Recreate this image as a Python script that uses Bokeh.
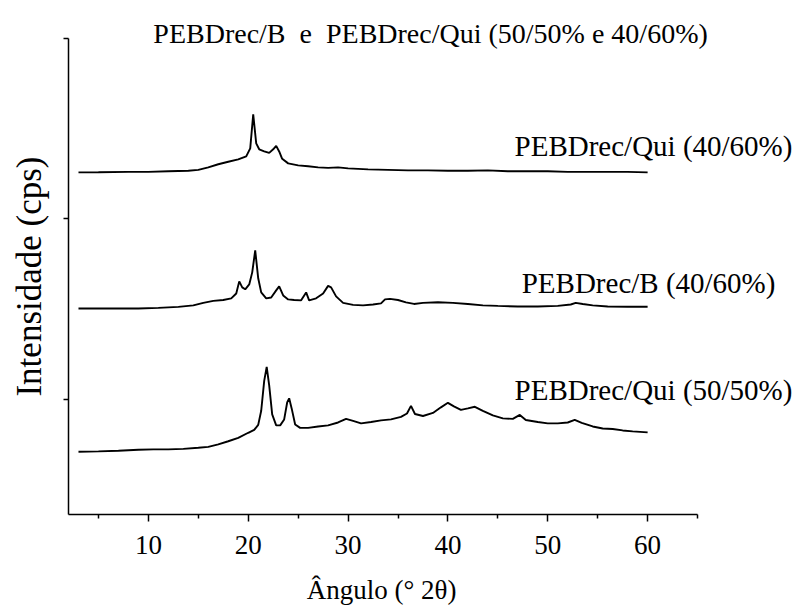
import math
from bokeh.plotting import figure
from bokeh.models import Range1d, FixedTicker, Label, CustomJSTickFormatter
from bokeh.embed import file_html
from bokeh.resources import INLINE

# Diffraction angle (2θ, degrees) and stacked intensity (cps, offset per sample)
angle_qui_40_60 = [3, 5, 8, 10, 12, 14, 15, 16, 17, 18, 19, 19.8, 20.2, 20.5, 20.8,
                   21.1, 21.6, 22.1, 22.5, 22.8, 23.1, 23.4, 24, 25, 26, 27, 28, 29,
                   30, 32, 34, 36, 38, 40, 42, 44, 46, 48, 50, 52, 54, 56, 58, 60]
int_qui_40_60 = [2258, 2259, 2261, 2261, 2264, 2267, 2272, 2286, 2303, 2317, 2330,
                 2347, 2391, 2580, 2419, 2386, 2375, 2366, 2386, 2405, 2374, 2333,
                 2308, 2297, 2292, 2286, 2283, 2286, 2280, 2275, 2272, 2269, 2269,
                 2267, 2267, 2269, 2264, 2264, 2264, 2261, 2261, 2261, 2261, 2258]

angle_b_40_60 = [3, 6, 9, 11, 13, 14.5, 15.5, 16.5, 17.5, 18.3, 18.8, 19.1, 19.4, 19.7,
                 20.1, 20.4, 20.7, 21.0, 21.3, 21.8, 22.3, 22.8, 23.1, 23.5, 24.0, 24.6,
                 25.3, 25.8, 26.1, 26.8, 27.5, 28.0, 28.3, 28.8, 29.5, 30.5, 31.5, 32.5,
                 33.3, 33.7, 34.2, 35, 35.8, 36.6, 37.5, 39, 40.5, 42, 43.5, 45, 47, 49,
                 51, 52.3, 52.8, 53.5, 54.5, 56, 58, 60]
int_b_40_60 = [1504, 1504, 1504, 1507, 1513, 1521, 1535, 1546, 1551, 1560, 1587, 1654,
               1621, 1610, 1637, 1704, 1826, 1671, 1593, 1560, 1565, 1604, 1626, 1576,
               1554, 1551, 1549, 1593, 1549, 1560, 1587, 1629, 1621, 1571, 1535, 1524,
               1521, 1526, 1532, 1554, 1557, 1551, 1538, 1529, 1535, 1538, 1535, 1529,
               1521, 1518, 1515, 1515, 1518, 1526, 1535, 1529, 1521, 1515, 1513, 1513]

angle_qui_50_50 = [3, 5, 7, 9, 10.5, 12, 13.5, 15, 16, 17, 18, 19, 20, 20.6, 21.0, 21.3,
                   21.6, 21.85, 22.1, 22.4, 22.8, 23.2, 23.6, 23.9, 24.1, 24.35, 24.7,
                   25.2, 26, 27, 28, 29, 29.8, 30.5, 31.3, 32.3, 33.3, 34.3, 35.3, 35.9,
                   36.3, 36.7, 37.5, 38.5, 39.3, 40.0, 40.6, 41.3, 42.0, 42.7, 43.5, 44.5,
                   45.5, 46.5, 47.2, 47.8, 49, 50, 51, 52, 52.7, 53.4, 54.5, 55.5, 56.5,
                   57.5, 58.5, 60]
int_qui_50_50 = [710, 712, 715, 721, 723, 723, 726, 732, 737, 751, 768, 787, 815, 831,
                 859, 937, 1103, 1180, 1078, 917, 856, 856, 889, 983, 1006, 950, 861,
                 842, 842, 850, 856, 872, 892, 881, 867, 875, 884, 889, 903, 922, 964,
                 919, 908, 925, 956, 981, 961, 942, 950, 959, 936, 911, 895, 892, 914,
                 886, 875, 867, 867, 872, 886, 870, 850, 839, 836, 828, 823, 817]

series = [
    (angle_qui_40_60, int_qui_40_60),
    (angle_b_40_60, int_b_40_60),
    (angle_qui_50_50, int_qui_50_50),
]

# Sample names, anchored by their right edge next to each trace
sample_names = ["PEBDrec/Qui (40/60%)", "PEBDrec/B (40/60%)", "PEBDrec/Qui (50/50%)"]
name_x = [74.5, 72.8, 74.5]
name_y = [2402, 1643, 1050]

x_ticks = [10, 20, 30, 40, 50, 60]
x_minor = [5, 15, 25, 35, 45, 55, 65]
y_ticks = [1000, 2000, 3000]

X_SPAN = (2, 65)
Y_SPAN = (362, 3000)

FONT = "Liberation Serif"

# The frame fills the whole canvas; both axes are pinned at the lower-left
# corner of the data span and every heading is placed as a label.
p = figure(width=795, height=612, output_backend="svg", toolbar_location=None,
           title=None,
           x_range=Range1d(-4.81, 74.81), y_range=Range1d(-181, 3210.6),
           min_border=0, min_border_left=0, min_border_right=0,
           min_border_top=0, min_border_bottom=0)
p.background_fill_color = "white"
p.border_fill_color = "white"
p.outline_line_color = None
p.xgrid.visible = False
p.ygrid.visible = False

for xs, ys in series:
    p.line(xs, ys, line_color="black", line_width=1.9)

# Bottom axis
xa = p.xaxis[0]
xa.fixed_location = Y_SPAN[0]
xa.bounds = X_SPAN
xa.ticker = FixedTicker(ticks=x_ticks, minor_ticks=x_minor)
xa.axis_line_width = 1.5
xa.axis_line_color = "black"
xa.major_tick_in = 0
xa.major_tick_out = 7
xa.minor_tick_in = 0
xa.minor_tick_out = 4
xa.major_tick_line_width = 1.5
xa.minor_tick_line_width = 1.5
xa.major_tick_line_color = "black"
xa.minor_tick_line_color = "black"
xa.major_label_text_font = FONT
xa.major_label_text_font_size = "27px"
xa.major_label_text_color = "black"
xa.major_label_standoff = 14

# Left axis: ticks only, no values
ya = p.yaxis[0]
ya.fixed_location = X_SPAN[0]
ya.bounds = Y_SPAN
ya.ticker = FixedTicker(ticks=y_ticks)
ya.formatter = CustomJSTickFormatter(code="return ''")
ya.axis_line_width = 1.5
ya.axis_line_color = "black"
ya.major_tick_in = 0
ya.major_tick_out = 5
ya.minor_tick_out = 0
ya.minor_tick_in = 0
ya.major_tick_line_width = 1.5
ya.major_tick_line_color = "black"

for name, nx, ny in zip(sample_names, name_x, name_y):
    p.add_layout(Label(x=nx, y=ny, text=name, text_align="right",
                       text_baseline="middle", text_font=FONT,
                       text_font_size="29px", text_color="black"))

# Heading
p.add_layout(Label(x=38.26, y=3028,
                   text="PEBDrec/B \u00a0e\u00a0 PEBDrec/Qui (50/50% e 40/60%)",
                   text_align="center", text_baseline="middle", text_font=FONT,
                   text_font_size="28px", text_color="black"))

# Axis titles
p.add_layout(Label(x=33.35, y=-59, text="Ângulo (° 2θ)",
                   text_align="center", text_baseline="middle", text_font=FONT,
                   text_font_size="27px", text_color="black"))
p.add_layout(Label(x=-1.91, y=1681, text="Intensidade (cps)", angle=math.pi / 2,
                   text_align="center", text_baseline="middle", text_font=FONT,
                   text_font_size="35px", text_color="black"))

open("out.html", "w").write(file_html(p, INLINE))
